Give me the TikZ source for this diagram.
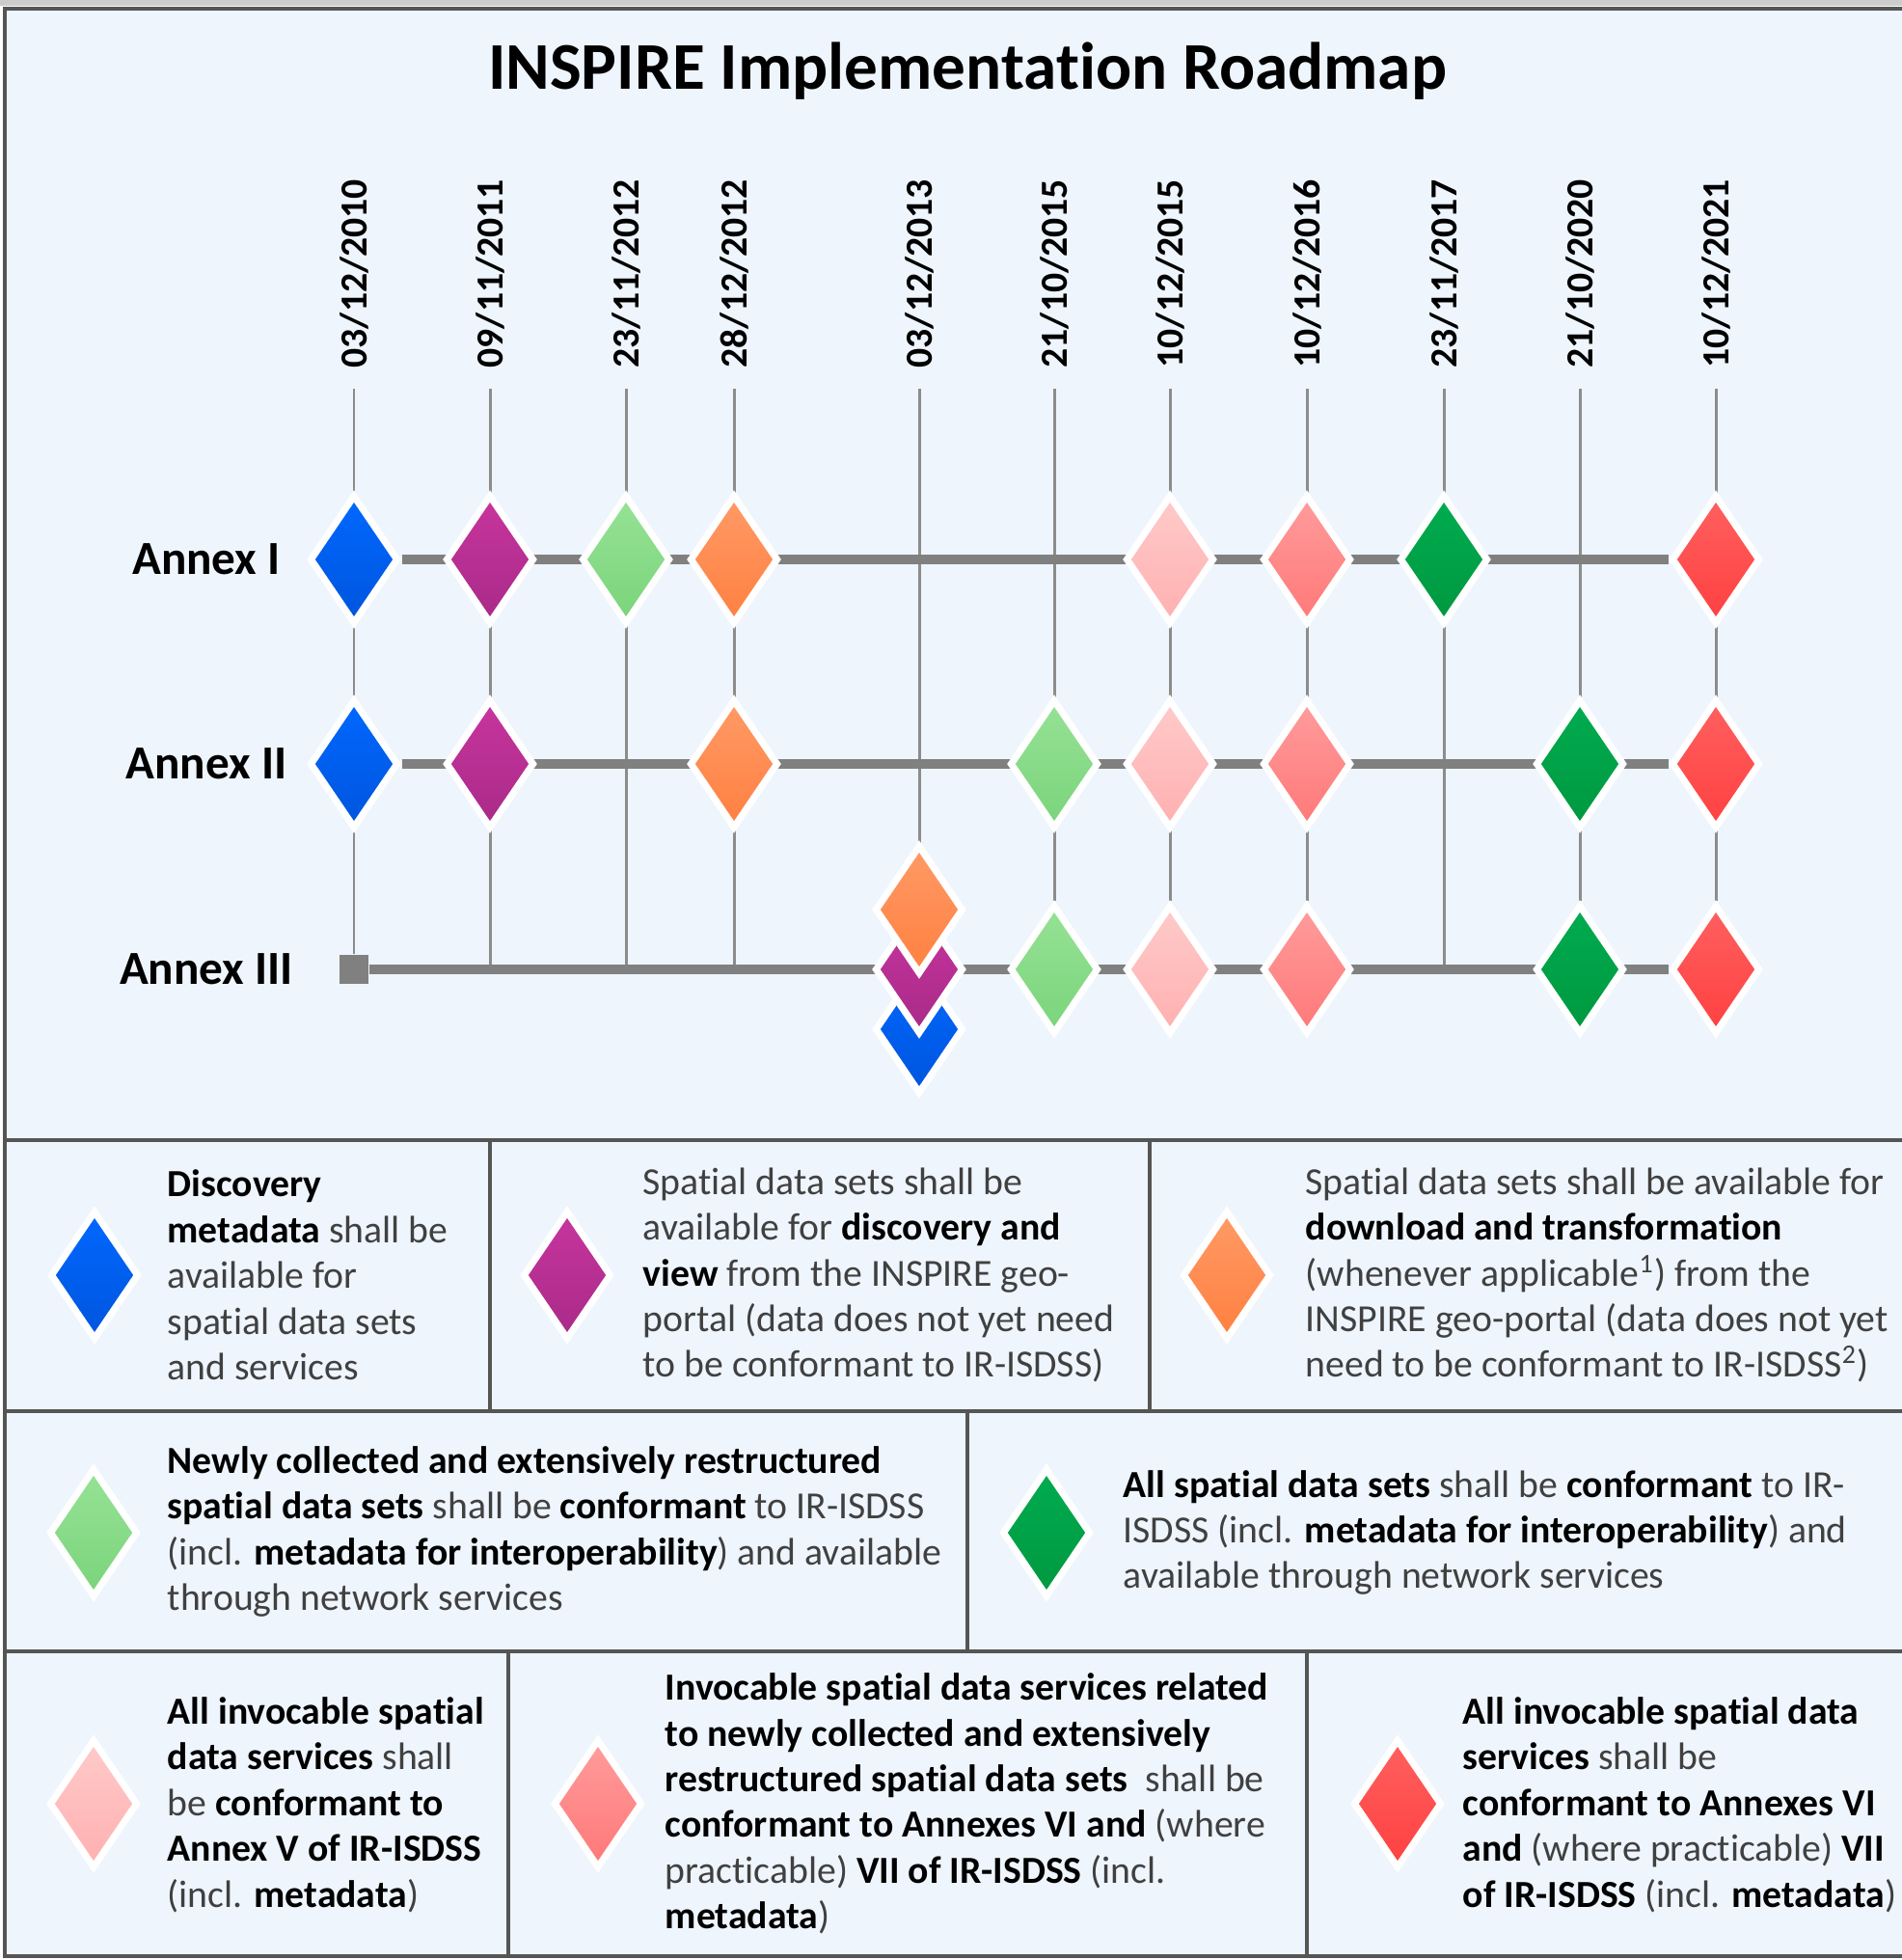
\documentclass[tikz,border=0pt]{standalone}
\usepackage{fontspec}
\setmainfont[Ligatures={NoCommon,NoContextual}, RawFeature={-liga;-clig;-dlig}]{Carlito}
\usetikzlibrary{positioning, shapes.geometric, backgrounds}

\definecolor{panel}{HTML}{EEF5FD}
\definecolor{framegray}{HTML}{555555}
\definecolor{roadgray}{HTML}{808080}
\definecolor{polegray}{HTML}{8C8C8C}
\definecolor{blueA}{HTML}{0068FF}
\definecolor{blueB}{HTML}{0055DD}
\definecolor{purpleA}{HTML}{C8359E}
\definecolor{purpleB}{HTML}{A82A88}
\definecolor{lgreenA}{HTML}{96E296}
\definecolor{lgreenB}{HTML}{7AD47A}
\definecolor{orangeA}{HTML}{FF9A66}
\definecolor{orangeB}{HTML}{FF8040}
\definecolor{pinkA}{HTML}{FFCACA}
\definecolor{pinkB}{HTML}{FFB0B0}
\definecolor{salmonA}{HTML}{FF9C9C}
\definecolor{salmonB}{HTML}{FF7878}
\definecolor{dgreenA}{HTML}{00AC50}
\definecolor{dgreenB}{HTML}{00983F}
\definecolor{redA}{HTML}{FF6060}
\definecolor{redB}{HTML}{FF4040}

\newcommand{\keyw}[1]{{\color{black}\bfseries #1}}

\begin{document}
        \begin{tikzpicture}[
            ms/.style={diamond, draw=white, line width=2pt, minimum width=0.92cm, minimum height=1.34cm, inner sep=0pt},
            mblue/.style={ms, top color=blueA, bottom color=blueB},
            mpurple/.style={ms, top color=purpleA, bottom color=purpleB},
            mlgreen/.style={ms, top color=lgreenA, bottom color=lgreenB},
            morange/.style={ms, top color=orangeA, bottom color=orangeB},
            mpink/.style={ms, top color=pinkA, bottom color=pinkB},
            msalmon/.style={ms, top color=salmonA, bottom color=salmonB},
            mdgreen/.style={ms, top color=dgreenA, bottom color=dgreenB},
            mred/.style={ms, top color=redA, bottom color=redB},
            datelabel/.style={rotate=90, anchor=west, inner sep=0pt, font=\fontsize{11.3}{13.5}\selectfont\bfseries},
            annex/.style={inner sep=0pt, font=\fontsize{14}{16}\selectfont\bfseries},
            legendtext/.style={anchor=west, align=left, inner sep=0pt, text=black!75, font=\fontsize{11.3}{13.5}\selectfont},
            colline/.style={draw=polegray, line width=0.85pt, shorten <=0.21cm},
            rowline/.style={draw=roadgray, line width=2.8pt},
            frameline/.style={draw=framegray, line width=1.3pt}
        ]
            \useasboundingbox (0, 0) rectangle (19.72, -20.32);

            \begin{pgfonlayer}{background}
                \fill[white] (0, 0) rectangle (19.72, -20.32);
                \fill[black!20] (0, 0) rectangle (19.72, -0.06);
                \fill[panel] (0.05, -0.09) rectangle (20.5, -20.28);
            \end{pgfonlayer}

            \node[anchor=base, font=\fontsize{19.7}{22}\selectfont\bfseries] (title) at (10.03, -0.92) {INSPIRE Implementation Roadmap};

            \node[datelabel] (d1) at (3.67, -3.82) {03/12/2010};
            \node[datelabel] (d2) at (5.08, -3.82) {09/11/2011};
            \node[datelabel] (d3) at (6.49, -3.82) {23/11/2012};
            \node[datelabel] (d4) at (7.61, -3.82) {28/12/2012};
            \node[datelabel] (d5) at (9.53, -3.82) {03/12/2013};
            \node[datelabel] (d6) at (10.93, -3.82) {21/10/2015};
            \node[datelabel] (d7) at (12.13, -3.82) {10/12/2015};
            \node[datelabel] (d8) at (13.55, -3.82) {10/12/2016};
            \node[datelabel] (d9) at (14.97, -3.82) {23/11/2017};
            \node[datelabel] (d10) at (16.38, -3.82) {21/10/2020};
            \node[datelabel] (d11) at (17.79, -3.82) {10/12/2021};

            \node[annex] (annex1) at (2.14, -5.80) {Annex I};
            \node[annex] (annex2) at (2.14, -7.92) {Annex II};
            \node[annex] (annex3) at (2.14, -10.05) {Annex III};

            \node[mblue] (a1) at (3.67, -5.80) {};
            \node[mpurple] (a2) at (5.08, -5.80) {};
            \node[mlgreen] (a3) at (6.49, -5.80) {};
            \node[morange] (a4) at (7.61, -5.80) {};
            \node[mpink] (a7) at (12.13, -5.80) {};
            \node[msalmon] (a8) at (13.55, -5.80) {};
            \node[mdgreen] (a9) at (14.97, -5.80) {};
            \node[mred] (a11) at (17.79, -5.80) {};

            \node[mblue] (b1) at (3.67, -7.92) {};
            \node[mpurple] (b2) at (5.08, -7.92) {};
            \node[morange] (b4) at (7.61, -7.92) {};
            \node[mlgreen] (b6) at (10.93, -7.92) {};
            \node[mpink] (b7) at (12.13, -7.92) {};
            \node[msalmon] (b8) at (13.55, -7.92) {};
            \node[mdgreen] (b10) at (16.38, -7.92) {};
            \node[mred] (b11) at (17.79, -7.92) {};

            \node[fill=roadgray, minimum size=0.3cm, inner sep=0pt] (sq) at (3.67, -10.05) {};
            \coordinate (c2) at (5.08, -10.05);
            \coordinate (c3) at (6.49, -10.05);
            \coordinate (c4) at (7.61, -10.05);
            \node[mblue] (c5bot) at (9.53, -10.67) {};
            \node[mpurple] (c5) at (9.53, -10.05) {};
            \node[morange] (c5top) at (9.53, -9.43) {};
            \node[mlgreen] (c6) at (10.93, -10.05) {};
            \node[mpink] (c7) at (12.13, -10.05) {};
            \node[msalmon] (c8) at (13.55, -10.05) {};
            \coordinate (c9) at (14.97, -10.05);
            \node[mdgreen] (c10) at (16.38, -10.05) {};
            \node[mred] (c11) at (17.79, -10.05) {};

            \begin{pgfonlayer}{background}
                \draw[colline] (d1.west) -- (sq);
                \draw[colline] (d2.west) -- (c2);
                \draw[colline] (d3.west) -- (c3);
                \draw[colline] (d4.west) -- (c4);
                \draw[colline] (d5.west) -- (c5);
                \draw[colline] (d6.west) -- (c6);
                \draw[colline] (d7.west) -- (c7);
                \draw[colline] (d8.west) -- (c8);
                \draw[colline] (d9.west) -- (c9);
                \draw[colline] (d10.west) -- (c10);
                \draw[colline] (d11.west) -- (c11);
                \draw[rowline] (a1) -- (a11);
                \draw[rowline] (b1) -- (b11);
                \draw[rowline] (sq) -- (c11);
            \end{pgfonlayer}

            \node[mblue] (k1) at (0.98, -13.22) {};
            \node[mpurple] (k2) at (5.88, -13.22) {};
            \node[morange] (k3) at (12.72, -13.22) {};
            \node[mlgreen] (k4) at (0.97, -15.89) {};
            \node[mdgreen] (k5) at (10.85, -15.89) {};
            \node[mpink] (k6) at (0.97, -18.70) {};
            \node[msalmon] (k7) at (6.20, -18.70) {};
            \node[mred] (k8) at (14.49, -18.70) {};

            \node[legendtext] (t1) at (1.73, -13.22) {\keyw{Discovery}\\\keyw{metadata} shall be\\available for\\spatial data sets\\and services};
            \node[legendtext] (t2) at (6.66, -13.22) {Spatial data sets shall be\\available for \keyw{discovery and}\\\keyw{view} from the INSPIRE geo-\\portal (data does not yet need\\to be conformant to IR-ISDSS)};
            \node[legendtext] (t3) at (13.53, -13.22) {Spatial data sets shall be available for\\\keyw{download and transformation}\\(whenever applicable\textsuperscript{1}) from the\\INSPIRE geo-portal (data does not yet\\need to be conformant to IR-ISDSS\textsuperscript{2})};
            \node[legendtext] (t4) at (1.73, -15.88) {\keyw{Newly collected and extensively restructured}\\\keyw{spatial data sets} shall be \keyw{conformant} to IR-ISDSS\\(incl. \keyw{metadata for interoperability}) and available\\through network services};
            \node[legendtext] (t5) at (11.64, -15.89) {\keyw{All spatial data sets} shall be \keyw{conformant} to IR-\\ISDSS (incl. \keyw{metadata for interoperability}) and\\available through network services};
            \node[legendtext] (t6) at (1.73, -18.71) {\keyw{All invocable spatial}\\\keyw{data services} shall\\be \keyw{conformant to}\\\keyw{Annex V of IR-ISDSS}\\(incl. \keyw{metadata})};
            \node[legendtext] (t7) at (6.89, -18.70) {\keyw{Invocable spatial data services related}\\\keyw{to newly collected and extensively}\\\keyw{restructured spatial data sets}\ \ shall be\\\keyw{conformant to Annexes VI and} (where\\practicable) \keyw{VII of IR-ISDSS} (incl.\\\keyw{metadata})};
            \node[legendtext] (t8) at (15.16, -18.71) {\keyw{All invocable spatial data}\\\keyw{services} shall be\\\keyw{conformant to Annexes VI}\\\keyw{and} (where practicable) \keyw{VII}\\\keyw{of IR-ISDSS} (incl. \keyw{metadata})};

            \draw[frameline] (0.05, -0.09) rectangle (20.5, -20.28);
            \draw[frameline] (0.05, -11.82) -- (20.5, -11.82);
            \draw[frameline] (0.05, -14.63) -- (20.5, -14.63);
            \draw[frameline] (0.05, -17.12) -- (20.5, -17.12);
            \draw[frameline] (5.08, -11.82) -- (5.08, -14.63);
            \draw[frameline] (11.92, -11.82) -- (11.92, -14.63);
            \draw[frameline] (10.03, -14.63) -- (10.03, -17.12);
            \draw[frameline] (5.27, -17.12) -- (5.27, -20.28);
            \draw[frameline] (13.55, -17.12) -- (13.55, -20.28);
        \end{tikzpicture}
\end{document}
